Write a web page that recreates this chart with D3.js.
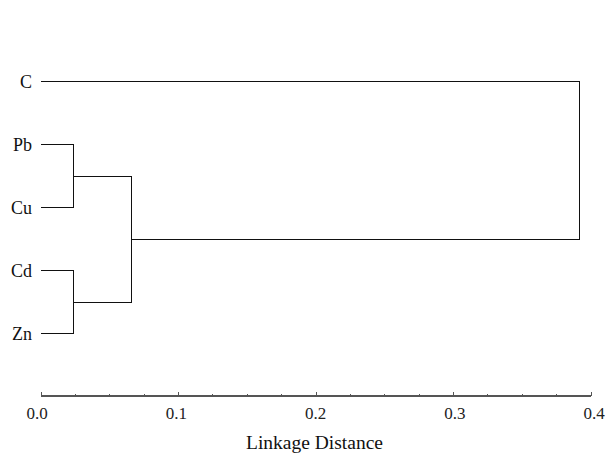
<!DOCTYPE html>
<html>
<head>
<meta charset="utf-8">
<script src="https://cdn.jsdelivr.net/npm/d3@7"></script>
<style>
  html, body { margin: 0; padding: 0; background: #fff; }
  svg { display: block; }
</style>
</head>
<body>
<svg id="chart" width="614" height="462"></svg>
<script>
// ---- data ----
const leaves = ["C", "Pb", "Cu", "Cd", "Zn"];
// merges (scipy-style): node ids 0..4 are leaves, 5.. are clusters
const linkLeft   = [1, 3, 5, 0];
const linkRight  = [2, 4, 6, 7];
const linkHeight = [0.0235, 0.0235, 0.066, 0.3915];
const majorTicks = [0.0, 0.1, 0.2, 0.3, 0.4];
const minorTicks = d3.range(0, 0.4001, 0.025);
const axisTitle = "Linkage Distance";

// ---- layout ----
const svg = d3.select("#chart");
const x = d3.scaleLinear().domain([0, 0.4]).range([41, 591]);
const y = d3.scalePoint().domain(leaves).range([18.5, 396.5]).padding(1);
const axisY = 396;
const font = "'Liberation Serif', 'DejaVu Serif', 'Times New Roman', serif";

// node positions
const nodes = leaves.map(n => ({ x: x(0), y: y(n) }));
linkLeft.forEach((l, i) => {
  const r = linkRight[i];
  nodes.push({ x: x(linkHeight[i]), y: (nodes[l].y + nodes[r].y) / 2 });
});

const g = svg.append("g")
  .attr("fill", "none")
  .attr("stroke", "#111")
  .attr("stroke-width", 1)
  .attr("shape-rendering", "crispEdges");

linkLeft.forEach((l, i) => {
  const r = linkRight[i];
  const m = nodes[leaves.length + i];
  const a = nodes[l], b = nodes[r];
  g.append("path")
    .attr("d", `M${a.x},${a.y}H${m.x}V${b.y}H${b.x}`);
});

// leaf labels
svg.append("g").selectAll("text")
  .data(leaves).join("text")
  .attr("x", 32)
  .attr("y", d => y(d))
  .attr("dy", "0.35em")
  .attr("text-anchor", "end")
  .attr("font-family", font)
  .attr("font-size", 18)
  .attr("fill", "#111")
  .text(d => d);

// axis
const ax = svg.append("g").attr("stroke", "#555").attr("shape-rendering", "crispEdges");
ax.append("line")
  .attr("x1", x(0)).attr("x2", x(0.4))
  .attr("y1", axisY).attr("y2", axisY)
  .attr("stroke-width", 1.5);
ax.selectAll("line.minor")
  .data(minorTicks).join("line")
  .attr("class", "minor")
  .attr("x1", d => x(d)).attr("x2", d => x(d))
  .attr("y1", axisY).attr("y2", d => majorTicks.some(t => Math.abs(t - d) < 1e-9) ? axisY - 4 : axisY - 2)
  .attr("stroke-width", 1);

svg.append("g").selectAll("text")
  .data(majorTicks).join("text")
  .attr("x", d => x(d) - 4 + d * 17.5)
  .attr("y", 418.5)
  .attr("text-anchor", "middle")
  .attr("font-family", font)
  .attr("font-size", 17)
  .attr("fill", "#222")
  .text(d3.format(".1f"));

svg.append("text")
  .attr("x", 314.5)
  .attr("y", 449)
  .attr("text-anchor", "middle")
  .attr("font-family", font)
  .attr("font-size", 19.5)
  .attr("fill", "#111")
  .text(axisTitle);
</script>
</body>
</html>
